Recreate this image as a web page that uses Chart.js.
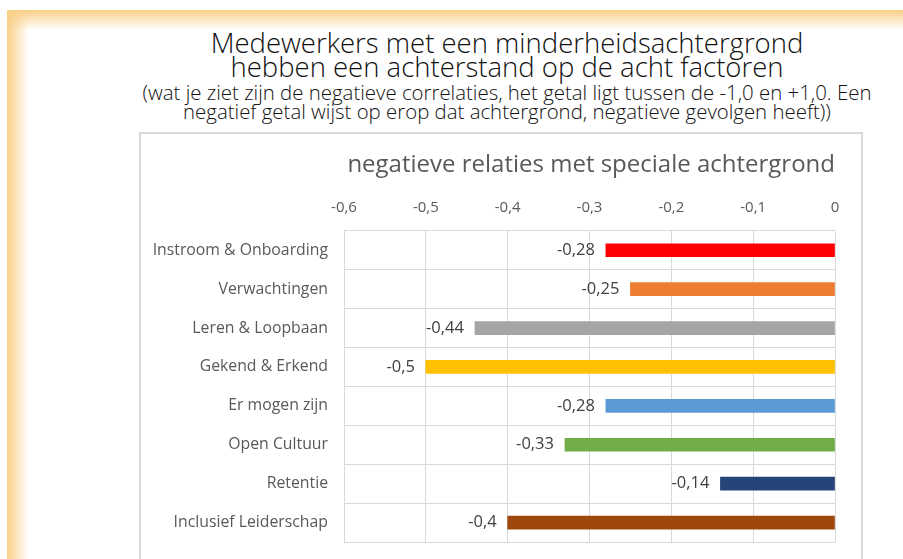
<!DOCTYPE html>
<html>
<head>
<meta charset="utf-8">
<script src="https://cdn.jsdelivr.net/npm/chart.js@4.4.1/dist/chart.umd.min.js"></script>
<style>
  body { margin: 0; width: 903px; height: 559px; overflow: hidden; background: #fff; position: relative; font-family: 'Open Sans', sans-serif; }
  .randLinks { position: absolute; left: 7px; top: 10px; width: 22px; height: 549px; background: linear-gradient(to right, #f9cf86, rgba(255,255,255,0)); }
  .randBoven { position: absolute; left: 7px; top: 10px; width: 896px; height: 20px; background: linear-gradient(to bottom, #f9cf86, rgba(255,255,255,0)); }
  .regel { position: absolute; left: 100px; width: 814px; text-align: center; color: #111; white-space: nowrap; font-weight: 300; }
  .groot { font-size: 27.5px; line-height: 26px; }
  .klein { font-size: 20.4px; line-height: 20px; }
  #kader { position: absolute; left: 139px; top: 132px; width: 720px; height: 440px; border: 2px solid #d9d9d9; }
  canvas { display: block; }
</style>
</head>
<body>
<div class="randLinks"></div>
<div class="randBoven"></div>
<div class="regel groot" style="top:30px">Medewerkers met een minderheidsachtergrond</div>
<div class="regel groot" style="top:54px">hebben een achterstand op de acht factoren</div>
<div class="regel klein" style="top:82px">(wat je ziet zijn de negatieve correlaties, het getal ligt tussen de -1,0 en +1,0. Een</div>
<div class="regel klein" style="top:101px">negatief getal wijst op erop dat achtergrond, negatieve gevolgen heeft))</div>
<div id="kader"><canvas id="grafiek" width="720" height="425"></canvas></div>
<script>
const factoren = ['Instroom & Onboarding', 'Verwachtingen', 'Leren & Loopbaan', 'Gekend & Erkend', 'Er mogen zijn', 'Open Cultuur', 'Retentie', 'Inclusief Leiderschap'];
const correlaties = [-0.28, -0.25, -0.44, -0.5, -0.28, -0.33, -0.14, -0.4];
const kleuren = ['#ff0000', '#ed7d31', '#a5a5a5', '#ffc000', '#5b9bd5', '#70ad47', '#264478', '#9e480e'];
const asMin = -0.6;
const asMax = 0;

function komma(v) {
  const r = Math.round(v * 100) / 100;
  return String(r).replace('.', ',');
}

// labels links van het einde van elke balk
const waardeLabels = {
  id: 'waardeLabels',
  afterDatasetsDraw(chart) {
    const ctx = chart.ctx;
    const meta = chart.getDatasetMeta(0);
    ctx.save();
    ctx.font = '16.5px "Open Sans"';
    ctx.fillStyle = '#404040';
    ctx.textAlign = 'right';
    ctx.textBaseline = 'middle';
    meta.data.forEach(function (bar, i) {
      ctx.fillText(komma(correlaties[i]), bar.x - 11, bar.y);
    });
    ctx.restore();
  }
};

const grafiek = new Chart(document.getElementById('grafiek'), {
  type: 'bar',
  data: {
    labels: factoren,
    datasets: [{
      data: correlaties,
      backgroundColor: kleuren,
      barThickness: 13
    }]
  },
  options: {
    indexAxis: 'y',
    responsive: false,
    maintainAspectRatio: false,
    animation: false,
    layout: { padding: { left: 0, right: 26, top: 0, bottom: 17 } },
    plugins: {
      legend: { display: false },
      tooltip: { enabled: false },
      title: {
        display: true,
        align: 'end',
        text: 'negatieve relaties met speciale achtergrond',
        color: '#595959',
        font: { family: 'Open Sans', size: 24, weight: 'normal' },
        padding: { top: 17, bottom: 5 }
      }
    },
    scales: {
      x: {
        position: 'top',
        min: asMin,
        max: asMax,
        afterFit: function (s) { s.paddingLeft = 0; s.paddingRight = 0; },
        ticks: {
          stepSize: 0.1,
          color: '#595959',
          font: { family: 'Open Sans', size: 15 },
          padding: 14,
          callback: function (v) { return komma(Math.round(v * 10) / 10); }
        },
        grid: { color: '#d9d9d9', drawTicks: false },
        border: { display: false }
      },
      y: {
        afterFit: function (s) { s.width = 203; s.paddingTop = 0; s.paddingBottom = 0; },
        ticks: {
          color: '#595959',
          font: { family: 'Open Sans', size: 15.8 },
          padding: 16
        },
        grid: { color: '#d9d9d9', drawTicks: false, offset: true },
        border: { display: false }
      }
    }
  },
  plugins: [waardeLabels]
});
</script>
</body>
</html>
